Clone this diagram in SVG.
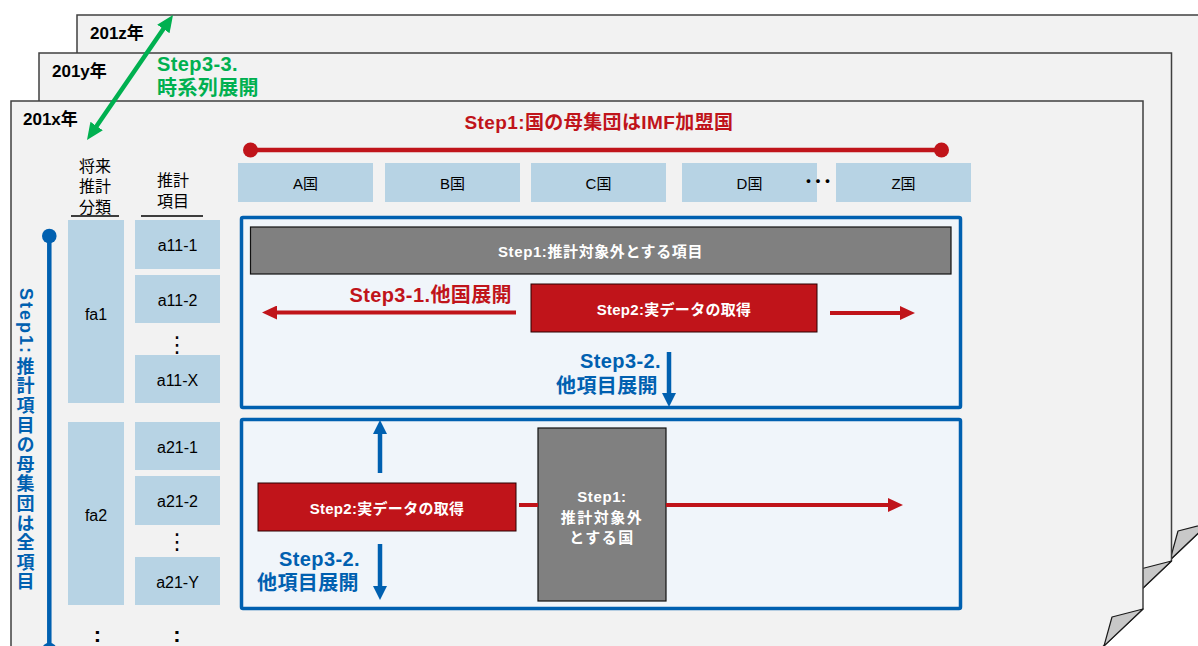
<svg xmlns="http://www.w3.org/2000/svg" width="1198" height="646" viewBox="0 0 1198 646">
<style>
.page{fill:#f2f2f2;stroke:#404040;stroke-width:1.5}
.fold{fill:#c8c8c8;stroke:#1a1a1a;stroke-width:1.2;stroke-linejoin:round}
text{font-family:"Liberation Sans","Noto Sans CJK JP",sans-serif}
.yr{font-size:17px;font-weight:bold;fill:#000}
.lb{fill:#b7d3e4}
.ct{font-size:15px;fill:#000;text-anchor:middle}
.it{font-size:16px;fill:#000;text-anchor:middle}
.hd{font-size:16px;fill:#000;text-anchor:middle}
.frame{fill:#f0f5fa;stroke:#0060b0;stroke-width:3.5}
.gbox{fill:#808080;stroke:#111;stroke-width:1.2}
.rbox{fill:#c0141a;stroke:#2a0000;stroke-width:1}
.wt{font-size:15px;font-weight:bold;fill:#fff;text-anchor:middle;letter-spacing:0.6px}
.big{font-size:20px;font-weight:bold;letter-spacing:0.4px}
.red{fill:#c0141a}
.blue{fill:#0060b0}
.green{fill:#00b050}
.end{text-anchor:end}
.rl{stroke:#c0141a;stroke-width:4;fill:none}
.bl{stroke:#0060b0;stroke-width:4.5;fill:none}
.gl{stroke:#00b050;stroke-width:4.5;fill:none}
.uline{stroke:#000;stroke-width:1.3}
.dots{font-family:"DejaVu Sans",sans-serif;font-size:22px;fill:#000;text-anchor:middle}
</style>
<defs>
<marker id="ar" viewBox="0 0 10 10" refX="3" refY="5" markerWidth="15" markerHeight="14" markerUnits="userSpaceOnUse" orient="auto-start-reverse" preserveAspectRatio="none"><path d="M0,0L10,5L0,10z" fill="#c0141a"/></marker>
<marker id="ab" viewBox="0 0 10 10" refX="3" refY="5" markerWidth="14" markerHeight="14" markerUnits="userSpaceOnUse" orient="auto-start-reverse" preserveAspectRatio="none"><path d="M0,0L10,5L0,10z" fill="#0060b0"/></marker>
<marker id="ag" viewBox="0 0 10 10" refX="3" refY="5" markerWidth="17" markerHeight="15" markerUnits="userSpaceOnUse" orient="auto-start-reverse" preserveAspectRatio="none"><path d="M0,0L10,5L0,10z" fill="#00b050"/></marker>
</defs>

<g id="page-201z">
<polygon class="page" points="77,15 1209,15 1209,523 1170,560 77,560"/>
<polygon class="fold" points="1209,523 1178,531 1170,560"/>
<text class="yr" x="90" y="39">201z年</text>
</g>
<g id="page-201y">
<polygon class="page" points="39,53 1171.5,53 1171.5,561 1132.5,598 39,598"/>
<polygon class="fold" points="1171.5,561 1140.5,569 1132.5,598"/>
<text class="yr" x="52" y="77">201y年</text>
</g>
<g id="page-201x">
<polygon class="page" points="11,101 1143,101 1143,609 1094,655 11,655"/>
<polygon class="fold" points="1143,609 1112,617 1104,646"/>
<text class="yr" x="23" y="125">201x年</text>
</g>

<g id="step3-3-label">
<text class="big green" x="157" y="71">Step3-3.</text>
<text class="big green" x="157" y="95">時系列展開</text>
</g>

<g id="country-scope">
<text class="big red" x="599" y="129" text-anchor="middle" style="font-size:19px">Step1:国の母集団はIMF加盟国</text>
</g>

<g id="headers">
<text class="hd" x="95" y="172">将来</text>
<text class="hd" x="95" y="192">推計</text>
<text class="hd" x="95" y="213">分類</text>
<line class="uline" x1="71" y1="216" x2="119" y2="216"/>
<text class="hd" x="173" y="186">推計</text>
<text class="hd" x="173" y="207">項目</text>
<line class="uline" x1="141" y1="216" x2="203" y2="216"/>
</g>

<g id="countries">
<g id="country-A"><rect class="lb" x="238" y="163" width="135" height="39"/><text class="ct" x="305.5" y="188.5">A国</text></g>
<g id="country-B"><rect class="lb" x="385" y="163" width="135" height="39"/><text class="ct" x="452.5" y="188.5">B国</text></g>
<g id="country-C"><rect class="lb" x="531" y="163" width="135" height="39"/><text class="ct" x="598.5" y="188.5">C国</text></g>
<g id="country-D"><rect class="lb" x="682" y="163" width="135" height="39"/><text class="ct" x="749.5" y="188.5">D国</text></g>
<text x="818" y="189" text-anchor="middle" style="font-family:'Noto Sans CJK JP',sans-serif;font-size:19px;font-weight:bold;fill:#000">･･･</text>
<g id="country-Z"><rect class="lb" x="836" y="163" width="135" height="39"/><text class="ct" x="903.5" y="188.5">Z国</text></g>
</g>

<g id="items">
<g id="fa1"><rect class="lb" x="68" y="220" width="56" height="183"/><text class="it" x="96" y="319.5">fa1</text></g>
<g id="fa2"><rect class="lb" x="68" y="422" width="56" height="183"/><text class="it" x="96" y="521">fa2</text></g>
<g id="a11-1"><rect class="lb" x="135" y="220" width="85" height="49"/><text class="it" x="177.5" y="251">a11-1</text></g>
<g id="a11-2"><rect class="lb" x="135" y="275" width="85" height="48"/><text class="it" x="177.5" y="305.5">a11-2</text></g>
<text class="dots" x="177" y="352">⋮</text>
<g id="a11-X"><rect class="lb" x="135" y="355" width="85" height="48"/><text class="it" x="177.5" y="385.5">a11-X</text></g>
<g id="a21-1"><rect class="lb" x="135" y="422" width="85" height="48"/><text class="it" x="177.5" y="452.5">a21-1</text></g>
<g id="a21-2"><rect class="lb" x="135" y="476" width="85" height="49"/><text class="it" x="177.5" y="507">a21-2</text></g>
<text class="dots" x="177" y="549">⋮</text>
<g id="a21-Y"><rect class="lb" x="135" y="557" width="85" height="48"/><text class="it" x="177.5" y="587.5">a21-Y</text></g>
<text x="97.5" y="642" text-anchor="middle" style="font-size:22px;font-weight:bold;fill:#000">:</text>
<text x="177" y="642" text-anchor="middle" style="font-size:22px;font-weight:bold;fill:#000">:</text>
</g>

<g id="item-scope">
<text class="blue" transform="translate(20,288) rotate(90)" style="font-size:18px;font-weight:bold" textLength="65" lengthAdjust="spacing">Step1:</text>
<text class="blue" x="25.5" y="357" writing-mode="vertical-rl" style="writing-mode:vertical-rl;font-size:18px;font-weight:bold;letter-spacing:1.6px;font-family:'Noto Sans CJK JP',sans-serif">推計項目の母集団は全項目</text>
</g>

<g id="frame-fa1">
<rect class="frame" x="241.5" y="217.5" width="719" height="190" rx="1.5"/>
</g>
<g id="excluded-items">
<rect class="gbox" x="250.5" y="227" width="700.5" height="47"/>
<text class="wt" x="600.5" y="257">Step1:推計対象外とする項目</text>
</g>
<g id="actual-data-1">
<rect class="rbox" x="531" y="284" width="286" height="48"/>
<text class="wt" x="674" y="314.5" style="letter-spacing:0.3px">Step2:実データの取得</text>
</g>
<g id="step3-1-label">
<text class="big red end" x="512" y="302">Step3-1.他国展開</text>
</g>
<g id="step3-2-upper-label">
<text class="big blue end" x="661" y="368">Step3-2.</text>
<text class="big blue end" x="658" y="393">他項目展開</text>
</g>

<g id="frame-fa2">
<rect class="frame" x="241.5" y="419.5" width="719" height="189" rx="1.5"/>
</g>
<g id="actual-data-2">
<rect class="rbox" x="258" y="483" width="258" height="48"/>
<text class="wt" x="387" y="513.5" style="letter-spacing:0.3px">Step2:実データの取得</text>
</g>
<g id="excluded-country">
<rect class="gbox" x="538" y="428" width="128" height="173"/>
<text class="wt" x="602" y="502">Step1:</text>
<text class="wt" x="602" y="523" style="letter-spacing:1.5px">推計対象外</text>
<text class="wt" x="602" y="543" style="letter-spacing:1.5px">とする国</text>
</g>
<g id="step3-2-lower-label">
<text class="big blue end" x="360" y="566">Step3-2.</text>
<text class="big blue end" x="359" y="590">他項目展開</text>
</g>

<g id="connectors">
<line class="gl" x1="166.25" y1="24.8" x2="93.75" y2="130.2" marker-start="url(#ag)" marker-end="url(#ag)"/>
<line class="rl" x1="250" y1="150" x2="942" y2="150" style="stroke-width:4.5"/>
<circle cx="250.5" cy="150" r="7.5" class="red"/>
<circle cx="941.5" cy="150" r="7.5" class="red"/>
<line class="bl" x1="49.3" y1="236" x2="49.3" y2="660"/>
<circle cx="49.3" cy="236" r="7.3" class="blue"/>
<circle cx="49.3" cy="650" r="7.3" class="blue"/>
<line class="rl" x1="516" y1="312.5" x2="272.5" y2="312.5" marker-end="url(#ar)"/>
<line class="rl" x1="830" y1="313" x2="904.5" y2="313" marker-end="url(#ar)"/>
<line class="rl" x1="519" y1="505" x2="538" y2="505"/>
<line class="rl" x1="666" y1="505" x2="892.5" y2="505" marker-end="url(#ar)"/>
<line class="bl" x1="669" y1="352" x2="669" y2="397.2" marker-end="url(#ab)"/>
<line class="bl" x1="380" y1="473" x2="380" y2="429.8" marker-end="url(#ab)"/>
<line class="bl" x1="380" y1="544" x2="380" y2="590.2" marker-end="url(#ab)"/>
</g>
</svg>
